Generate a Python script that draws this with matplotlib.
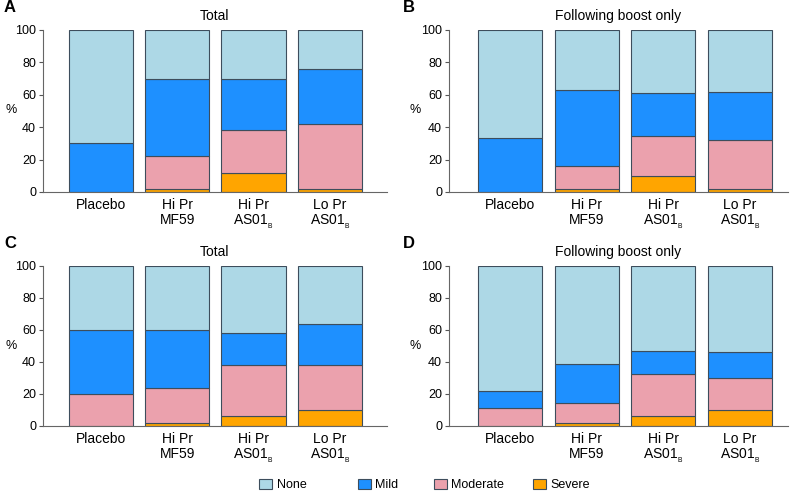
import matplotlib
matplotlib.use("Agg")
import matplotlib.pyplot as plt
from matplotlib.patches import Patch
import numpy as np

plt.rcParams['font.family'] = ['Liberation Sans', 'DejaVu Sans']
plt.rcParams['mathtext.default'] = 'regular'

categories = ['Placebo', 'Hi Pr\nMF59', 'Hi Pr\nAS01$_{_B}$', 'Lo Pr\nAS01$_{_B}$']
levels = ['None', 'Mild', 'Moderate', 'Severe']
colors = {'None': '#ADD8E6', 'Mild': '#1E90FF', 'Moderate': '#EBA1AD', 'Severe': '#FFA500'}

# Panel A: Total
A_severe = [0, 2, 12, 2]
A_moderate = [0, 20, 26, 40]
A_mild = [30, 48, 32, 34]
A_none = [70, 30, 30, 24]

# Panel B: Following boost only
B_severe = [0, 2, 10, 2]
B_moderate = [0, 14, 24.5, 30]
B_mild = [33.3, 47, 26.5, 30]
B_none = [66.7, 37, 39, 38]

# Panel C: Total
C_severe = [0, 2, 6, 10]
C_moderate = [20, 22, 32, 28]
C_mild = [40, 36, 20, 26]
C_none = [40, 40, 42, 36]

# Panel D: Following boost only
D_severe = [0, 2, 6.3, 10]
D_moderate = [11, 12.4, 26.2, 20]
D_mild = [11, 24.6, 14.5, 16]
D_none = [78, 61, 53, 54]

panels = [
    ('A', 'Total', A_severe, A_moderate, A_mild, A_none),
    ('B', 'Following boost only', B_severe, B_moderate, B_mild, B_none),
    ('C', 'Total', C_severe, C_moderate, C_mild, C_none),
    ('D', 'Following boost only', D_severe, D_moderate, D_mild, D_none),
]

W, H = 799, 492
fig = plt.figure(figsize=(W / 100, H / 100), dpi=100)

# pixel boxes: left, right, top(100), bottom(0)
boxes = {
    'A': (43, 387, 30, 192),
    'B': (449, 788, 30, 192),
    'C': (43, 387, 266, 426),
    'D': (449, 788, 266, 426),
}
xlims = {'A': (-0.76, 3.75), 'B': (-0.80, 3.63), 'C': (-0.76, 3.75), 'D': (-0.80, 3.63)}
letter_px = {'A': (4, 8), 'B': (403, 8), 'C': (4, 243), 'D': (403, 243)}
pct_px = {'A': (11, 110), 'B': (415, 110), 'C': (11, 346), 'D': (415, 346)}
legend_px = {'None': 259, 'Mild': 358, 'Moderate': 434, 'Severe': 533}

edge = '#3d4d5c'
x = np.arange(len(categories))
for letter, title, sev, mod, mil, non in panels:
    l, r, t, b = boxes[letter]
    ax = fig.add_axes([l / W, 1 - b / H, (r - l) / W, (b - t) / H])
    bottom = np.zeros(len(categories))
    for name, vals in [('Severe', sev), ('Moderate', mod), ('Mild', mil), ('None', non)]:
        vals = np.array(vals, dtype=float)
        ax.bar(x, vals, width=0.84, bottom=bottom, color=colors[name],
               edgecolor=edge, linewidth=0.8, zorder=2)
        bottom += vals
    ax.set_ylim(0, 100)
    ax.set_xlim(*xlims[letter])
    ax.set_yticks([0, 20, 40, 60, 80, 100])
    ax.set_xticks(x)
    ax.set_xticklabels(categories, fontsize=10, linespacing=1.15)
    ax.tick_params(axis='x', length=0, pad=4)
    ax.tick_params(axis='y', labelsize=9, length=3, width=0.8, color='#555555', pad=2)
    for s in ['top', 'right']:
        ax.spines[s].set_visible(False)
    for s in ['left', 'bottom']:
        ax.spines[s].set_color('#666666')
        ax.spines[s].set_linewidth(0.8)
    ax.set_title(title, fontsize=10, pad=7)
    px, py = pct_px[letter]
    fig.text(px / W, 1 - py / H, '%', fontsize=9, ha='center', va='center')
    lx, ly = letter_px[letter]
    fig.text(lx / W, 1 - ly / H, letter, fontsize=12,
             fontweight='bold', ha='left', va='center')

for n in levels:
    h = Patch(facecolor=colors[n], edgecolor=edge, linewidth=0.8)
    fig.legend([h], [n], loc='center left',
               bbox_to_anchor=(legend_px[n] / W, 1 - 485 / H),
               frameon=False, fontsize=9, borderpad=0, borderaxespad=0,
               handlelength=1.0, handleheight=0.9, handletextpad=0.4)

fig.savefig('out.png', dpi=100)
